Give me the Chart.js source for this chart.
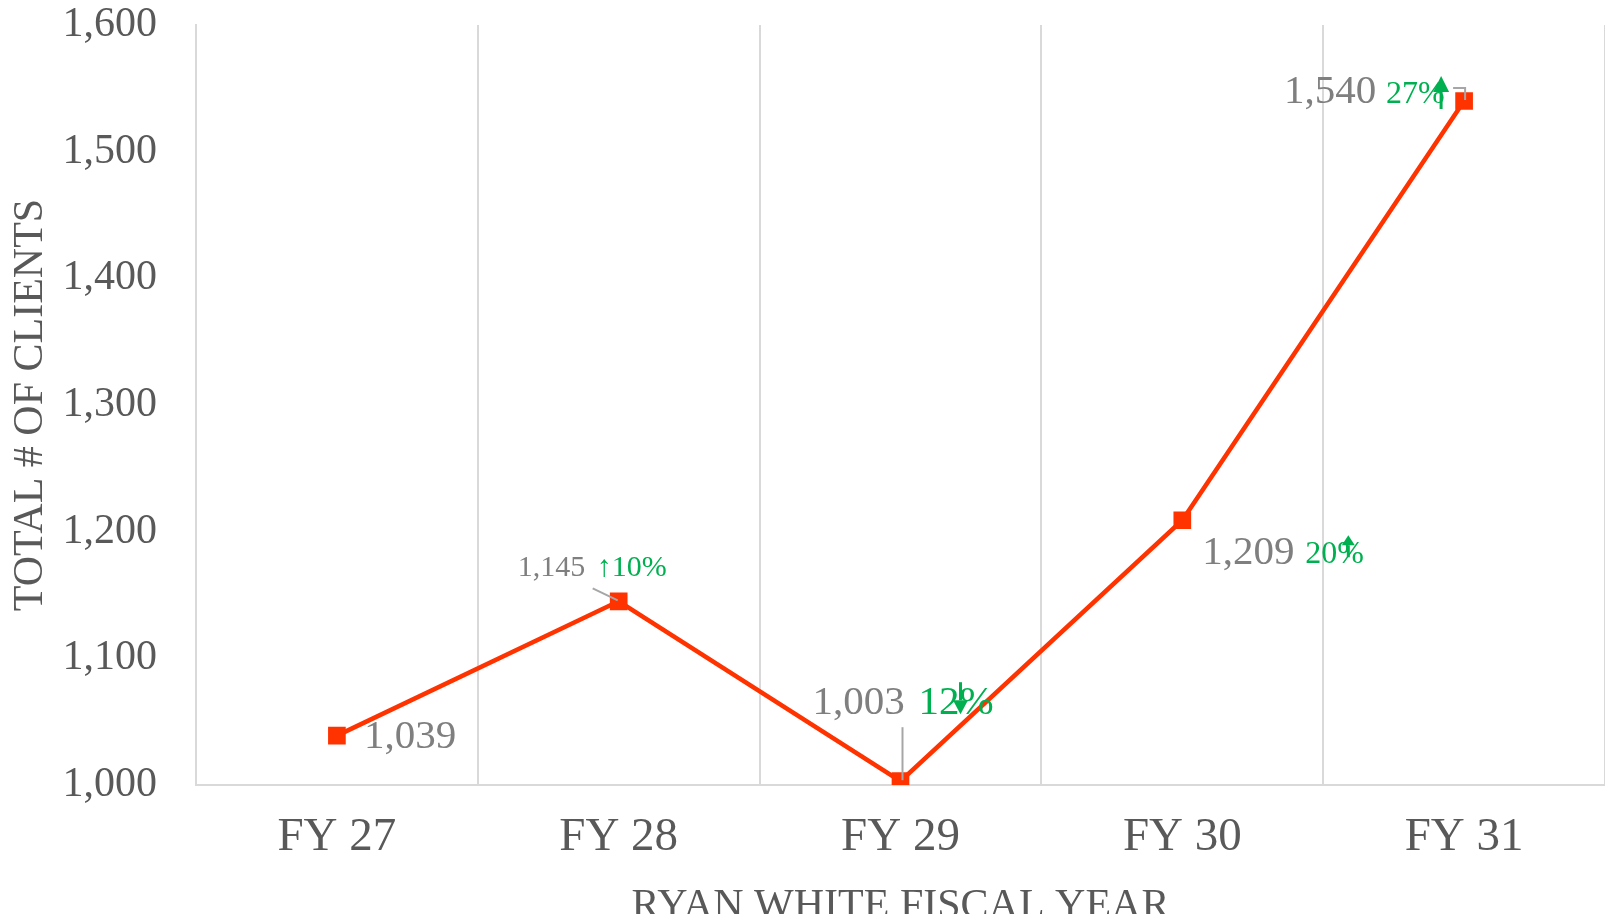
<!DOCTYPE html>
<html>
<head>
<meta charset="utf-8">
<script src="https://cdn.jsdelivr.net/npm/chart.js@4.4.1/dist/chart.umd.min.js"></script>
<style>
  html, body { margin: 0; padding: 0; background: #fff; overflow: hidden; }
</style>
</head>
<body>
<canvas id="chart" width="1605" height="914"></canvas>
<script>
// data
const years = ['FY 27', 'FY 28', 'FY 29', 'FY 30', 'FY 31'];
const clients = [1039, 1145, 1003, 1209, 1540];
const changes = [null, '10%', '12%', '20%', '27%'];
const changeDir = [null, 'up', 'down', 'up', 'up'];
const yMin = 1000, yMax = 1600, yStep = 100;

const SERIF = '"Liberation Serif", "Times New Roman", serif';
const GREY_TXT = '#595959';
const LABEL_GREY = '#7f7f7f';
const GREEN = '#00b050';
const LEADER = '#a6a6a6';

// where each data label sits, relative to its point (Excel had them dragged around)
const labelStyle = [
  { dx: 27, dy: 2, size: 41 },
  { dx: -101, dy: -33, size: 30, pdx: -22, pdy: 0, psize: 30, glyph: true,
    leader: [[-26, -13], [-1, -1]] },
  { dx: -88, dy: -78, size: 41, pdx: 18, pdy: 0, psize: 41,
    arrow: { ax: 42, top: -21, base: -3, tip: 11, w: 15 },
    leader: [[2, -54], [2, -1]] },
  { dx: 20, dy: 33, size: 41, pdx: 123, pdy: 1, psize: 32,
    arrow: { ax: 43, top: -19, base: -9, tip: 3, w: 13 } },
  { dx: -180, dy: -9, size: 41, pdx: -78, pdy: 3, psize: 32,
    arrow: { ax: 55, top: -19, base: -3, tip: 14, w: 16 },
    leader: [[-11, -13], [1, -13], [1, -1]] }
];

const labelPlugin = {
  id: 'valueLabels',
  afterDatasetsDraw(chart) {
    const ctx = chart.ctx;
    const pts = chart.getDatasetMeta(0).data;
    ctx.save();
    ctx.textBaseline = 'middle';
    ctx.textAlign = 'left';
    pts.forEach((p, i) => {
      const s = labelStyle[i];
      // leader line
      if (s.leader) {
        ctx.strokeStyle = LEADER;
        ctx.lineWidth = 2;
        ctx.beginPath();
        s.leader.forEach(([lx, ly], k) => {
          if (k === 0) ctx.moveTo(p.x + lx, p.y + ly);
          else ctx.lineTo(p.x + lx, p.y + ly);
        });
        ctx.stroke();
      }
      const y = p.y + s.dy;
      ctx.fillStyle = LABEL_GREY;
      ctx.font = s.size + 'px ' + SERIF;
      ctx.fillText(clients[i].toLocaleString('en-US'), p.x + s.dx, y);
      if (!changes[i]) return;
      const px = p.x + s.pdx;
      const py = y + s.pdy;
      ctx.fillStyle = GREEN;
      ctx.font = s.psize + 'px ' + SERIF;
      if (s.glyph) {
        ctx.fillText((changeDir[i] === 'up' ? '\u2191' : '\u2193') + changes[i], px, py);
      } else {
        ctx.fillText(changes[i], px, py);
        const a = s.arrow;
        const ax = px + a.ax;
        const up = changeDir[i] === 'up';
        ctx.strokeStyle = GREEN;
        ctx.lineWidth = 3;
        ctx.beginPath();
        if (up) {
          ctx.moveTo(ax, py + a.base);
          ctx.lineTo(ax, py + a.tip);
        } else {
          ctx.moveTo(ax, py + a.top);
          ctx.lineTo(ax, py + a.base);
        }
        ctx.stroke();
        ctx.beginPath();
        if (up) {
          ctx.moveTo(ax, py + a.top);
          ctx.lineTo(ax - a.w / 2, py + a.base);
          ctx.lineTo(ax + a.w / 2, py + a.base);
        } else {
          ctx.moveTo(ax - a.w / 2, py + a.base);
          ctx.lineTo(ax + a.w / 2, py + a.base);
          ctx.lineTo(ax, py + a.tip);
        }
        ctx.closePath();
        ctx.fill();
      }
    });
    ctx.restore();
  }
};

Chart.defaults.font.family = SERIF;

new Chart(document.getElementById('chart'), {
  type: 'line',
  data: {
    labels: years,
    datasets: [{
      data: clients,
      borderColor: '#ff3300',
      backgroundColor: '#ff3300',
      borderWidth: 4.5,
      tension: 0,
      pointStyle: 'rect',
      pointRadius: 12.5,
      pointHoverRadius: 12.5,
      pointBorderWidth: 0
    }]
  },
  options: {
    responsive: false,
    animation: false,
    events: [],
    layout: { autoPadding: false, padding: { top: 25, right: 0, bottom: 0, left: 0 } },
    plugins: { legend: { display: false }, tooltip: { enabled: false } },
    scales: {
      x: {
        offset: true,
        grid: { color: '#d9d9d9', lineWidth: 2, drawTicks: false, offset: true },
        border: { color: '#d9d9d9', width: 2 },
        ticks: { color: GREY_TXT, font: { size: 47 }, padding: 24 },
        title: {
          display: true, text: 'RYAN WHITE FISCAL YEAR', color: GREY_TXT,
          font: { size: 42, lineHeight: 1 }, padding: { top: 0, bottom: -14 }
        },
        afterFit(s) {
          s.height = 129;
          s.paddingLeft = 0; s.paddingRight = 0;
        }
      },
      y: {
        min: yMin, max: yMax,
        grid: { display: false, drawTicks: false },
        border: { color: '#d9d9d9', width: 2 },
        ticks: {
          stepSize: yStep, color: GREY_TXT, font: { size: 42 }, padding: 39,
          callback: v => v.toLocaleString('en-US')
        },
        title: {
          display: true, text: 'TOTAL # OF CLIENTS', color: GREY_TXT,
          font: { size: 42, lineHeight: 1 }, padding: { top: 10, bottom: 0 }
        },
        afterFit(s) {
          s.width = 196;
          s.paddingTop = 0; s.paddingBottom = 0;
        }
      }
    }
  },
  plugins: [labelPlugin]
});
</script>
</body>
</html>
